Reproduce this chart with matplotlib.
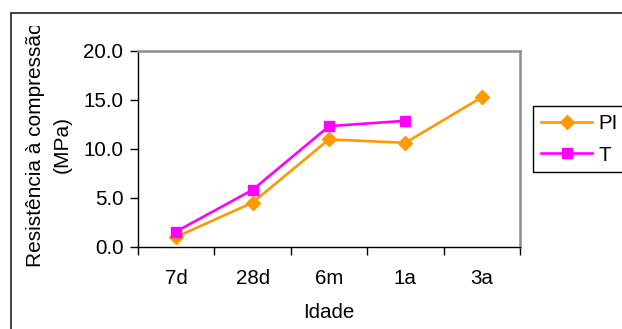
import matplotlib
matplotlib.use("Agg")
import matplotlib.pyplot as plt
from matplotlib.patches import Rectangle
from matplotlib.transforms import Bbox, TransformedBbox
from matplotlib.lines import Line2D

categories = ["7d", "28d", "6m", "1a", "3a"]
pi_values = [1.0, 4.5, 10.95, 10.6, 15.25]
t_values = [1.55, 5.8, 12.3, 12.85]
yticks = [0.0, 5.0, 10.0, 15.0, 20.0]

plt.rcParams['font.family'] = ['Liberation Sans', 'DejaVu Sans']
FS = 14.8

W, H = 622, 329
fig = plt.figure(figsize=(W / 100, H / 100), dpi=100)
fig.patch.set_facecolor('white')

# axes placement (pixels)
L, R, T, B = 138, 520, 50.7, 246.7
ax = fig.add_axes([L / W, 1 - B / H, (R - L) / W, (B - T) / H])

x_pi = list(range(len(pi_values)))
x_t = list(range(len(t_values)))
ax.plot(x_pi, pi_values, color='#FF9900', lw=1.9, marker='D', ms=7,
        label='PI', zorder=3)
ax.plot(x_t, t_values, color='#FF00FF', lw=1.9, marker='s', ms=7.3,
        label='T', zorder=4)

ax.set_xlim(-0.5, len(categories) - 0.5)
ax.set_ylim(0, 20)
ax.set_yticks(yticks)
ax.set_yticklabels([f"{v:.1f}" for v in yticks], fontsize=FS)
ax.tick_params(axis='y', direction='out', length=5.5, width=1, pad=5)

ax.set_xticks([i - 0.5 for i in range(len(categories) + 1)])
ax.set_xticklabels([])
ax.tick_params(axis='x', which='major', direction='out', length=5.5, width=1)
ax.set_xticks(range(len(categories)), minor=True)
ax.set_xticklabels(categories, minor=True, fontsize=FS)
ax.tick_params(axis='x', which='minor', length=0, pad=16)

for s in ['top', 'right']:
    ax.spines[s].set_color('#8c8c8c')
    ax.spines[s].set_linewidth(1.8)
for s in ['left', 'bottom']:
    ax.spines[s].set_color('black')
    ax.spines[s].set_linewidth(1.0)

ax.set_xlabel('Idade', fontsize=FS)
ax.xaxis.set_label_coords(0.5, (B - 313) / (B - T))
ax.xaxis.label.set_va('center')

ylab = fig.text(49 / W, 1 - 145 / H, "Resistência à compressão\n(MPa)",
                rotation=90, ha='center', va='center', fontsize=15,
                linespacing=1.5, multialignment='center')
ylab.set_clip_on(True)
ylab.set_clip_box(TransformedBbox(Bbox([[0, 0], [1, 1 - 26 / H]]), fig.transFigure))

# outer chart border
fig.patches.append(Rectangle((11 / W, -0.1), 1.2, 1.1 - 13 / H,
                             transform=fig.transFigure, fill=False,
                             edgecolor='#222222', lw=1.2))

handles = [Line2D([], [], color='#FF9900', lw=1.9, marker='D', ms=7),
           Line2D([], [], color='#FF00FF', lw=1.9, marker='s', ms=7.3)]
leg = fig.legend(handles, ['PI', 'T'], loc='upper left',
                 bbox_to_anchor=(533 / W, 1 - 106 / H), borderaxespad=0,
                 fontsize=FS, frameon=True, fancybox=False, edgecolor='black',
                 framealpha=1, borderpad=0.38, handlelength=2.5,
                 handletextpad=0.3, labelspacing=0.62)
leg.get_frame().set_linewidth(1.0)

fig.savefig('out.png', dpi=100)
